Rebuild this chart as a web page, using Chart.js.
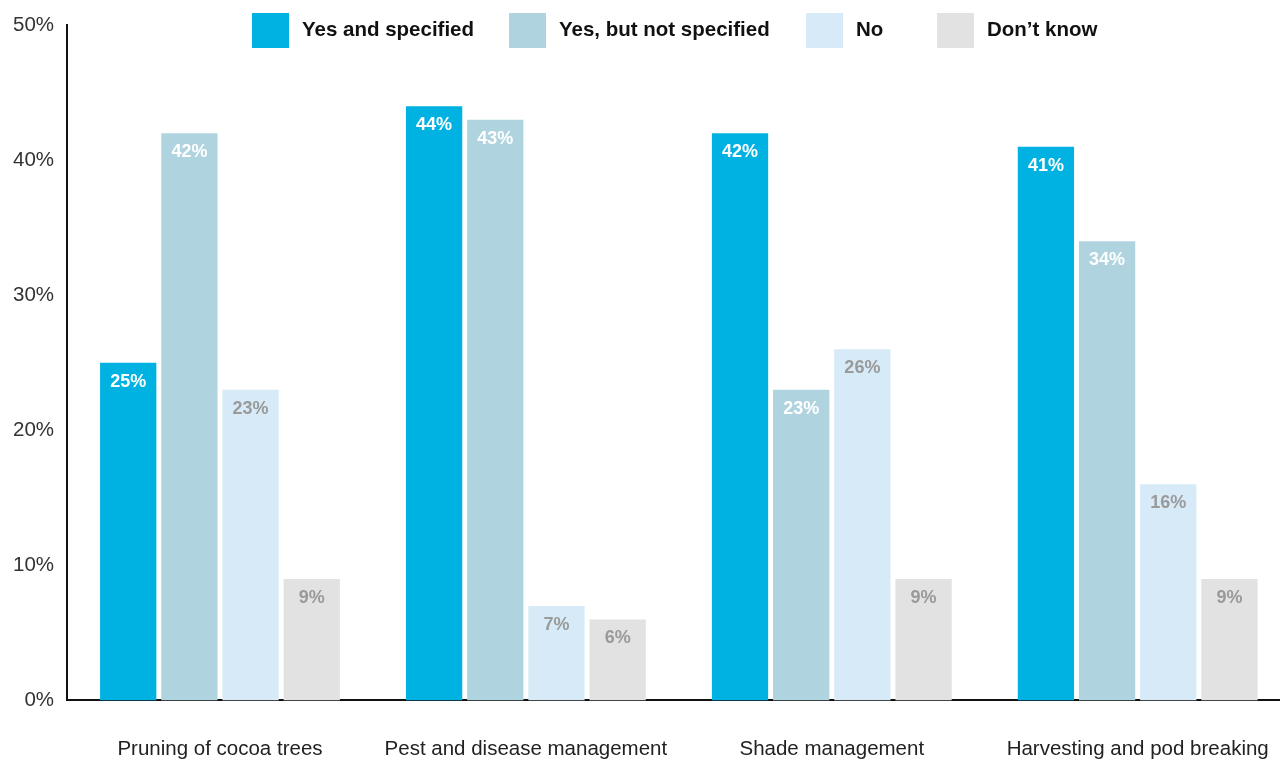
<!DOCTYPE html>
<html lang="en">
<head>
    <meta charset="UTF-8">
    <title>Training topics</title>
    <script src="https://cdn.jsdelivr.net/npm/chart.js@4.4.0/dist/chart.umd.min.js"></script>
    <style>
        html, body { margin: 0; padding: 0; background: #fff; }
        .frame { position: relative; width: 1280px; height: 760px; overflow: hidden; }
        canvas { display: block; position: absolute; left: 0; top: 0; }
    </style>
</head>
<body>
<div class="frame">
    <canvas id="topicsChart" width="1306" height="799"></canvas>
</div>
<script>
    const categories = ['Pruning of cocoa trees', 'Pest and disease management', 'Shade management', 'Harvesting and pod breaking'];
    const seriesNames = ['Yes and specified', 'Yes, but not specified', 'No', 'Don\u2019t know'];
    const yesSpecified = [25, 44, 42, 41];
    const yesNotSpecified = [42, 43, 23, 34];
    const no = [23, 7, 26, 16];
    const dontKnow = [9, 6, 9, 9];
    const yTicks = [0, 10, 20, 30, 40, 50];

    const colors = ['#00b2e2', '#b0d4df', '#d6ebf7', '#e2e2e2'];
    const labelColors = ['#ffffff', '#ffffff', '#9a9a9a', '#9a9a9a'];
    const FONT = '"Liberation Sans", Arial, Helvetica, sans-serif';

    // value labels just inside the top of every bar
    const barLabels = {
        id: 'barLabels',
        afterDatasetsDraw(chart) {
            const ctx = chart.ctx;
            ctx.save();
            ctx.font = 'bold 18px ' + FONT;
            ctx.textAlign = 'center';
            ctx.textBaseline = 'middle';
            chart.data.datasets.forEach((ds, i) => {
                chart.getDatasetMeta(i).data.forEach((bar, j) => {
                    ctx.fillStyle = labelColors[i];
                    ctx.fillText(ds.data[j] + '%', bar.x, bar.y + 19);
                });
            });
            ctx.restore();
        }
    };

    // legend row sitting over the top of the plot
    const topLegend = {
        id: 'topLegend',
        afterDraw(chart, args, opts) {
            const ctx = chart.ctx;
            ctx.save();
            ctx.font = 'bold 20.5px ' + FONT;
            ctx.textBaseline = 'middle';
            chart.data.datasets.forEach((ds, i) => {
                const x = opts.starts[i];
                ctx.fillStyle = ds.backgroundColor;
                ctx.fillRect(x, 13, 37, 35);
                ctx.fillStyle = '#111';
                ctx.fillText(ds.label, x + 50, 30);
            });
            ctx.restore();
        }
    };

    new Chart(document.getElementById('topicsChart'), {
        type: 'bar',
        data: {
            labels: categories,
            datasets: [yesSpecified, yesNotSpecified, no, dontKnow].map((vals, i) => ({
                label: seriesNames[i],
                data: vals,
                backgroundColor: colors[i],
                categoryPercentage: 0.8,
                barPercentage: 0.92
            }))
        },
        options: {
            responsive: false,
            animation: false,
            layout: { padding: { top: 14, left: 0, right: 2, bottom: 0 } },
            plugins: {
                legend: { display: false },
                tooltip: { enabled: false },
                topLegend: { starts: [252, 509, 806, 937] }
            },
            scales: {
                x: {
                    grid: { display: false, drawTicks: false },
                    border: { color: '#111', width: 2 },
                    ticks: {
                        color: '#222',
                        font: { family: FONT, size: 20.5 },
                        padding: 37,
                        maxRotation: 0,
                        autoSkip: false
                    }
                },
                y: {
                    min: yTicks[0],
                    max: yTicks[yTicks.length - 1],
                    afterBuildTicks(scale) { scale.ticks = yTicks.map(v => ({ value: v })); },
                    grid: { display: false, drawTicks: false },
                    border: { color: '#111', width: 2 },
                    ticks: {
                        color: '#333',
                        font: { family: FONT, size: 20.5 },
                        padding: 13,
                        callback: v => v + '%'
                    }
                }
            }
        },
        plugins: [barLabels, topLegend]
    });
</script>
</body>
</html>
